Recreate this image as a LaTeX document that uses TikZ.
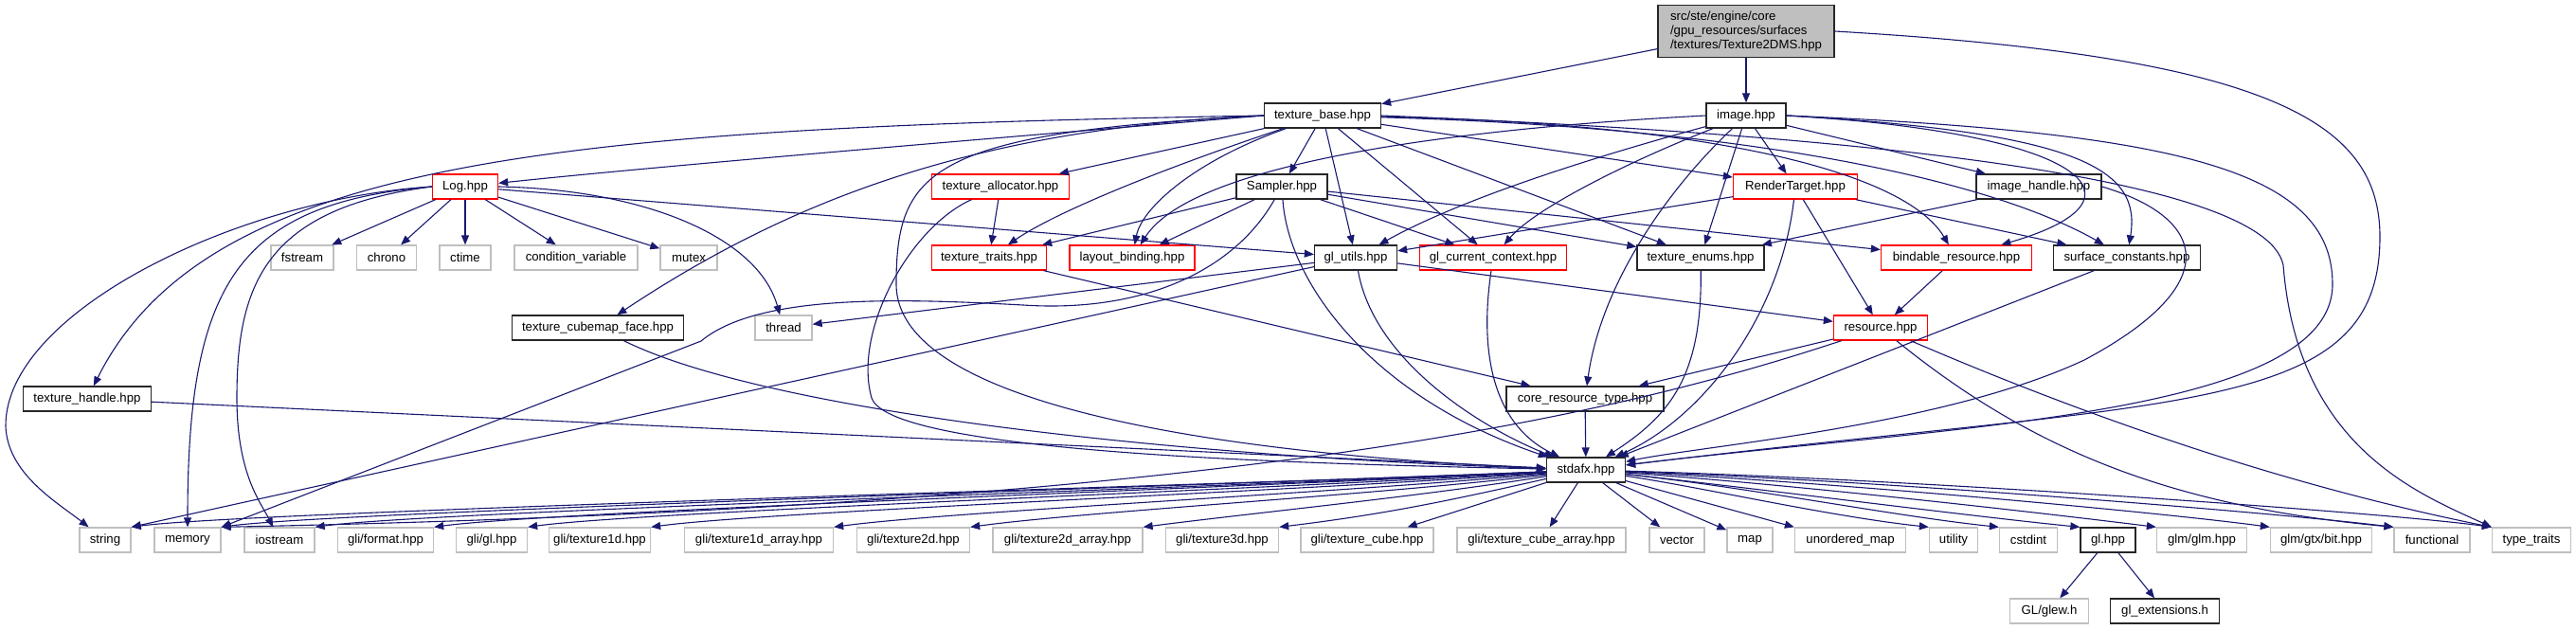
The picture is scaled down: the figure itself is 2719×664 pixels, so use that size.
\documentclass[tikz,border=0pt]{standalone}
\usepackage{fontspec}
\setmainfont{Liberation Sans}
\usetikzlibrary{arrows.meta}
\definecolor{edgec}{HTML}{191970}
\definecolor{greyc}{HTML}{BFBFBF}
\begin{document}
\begin{tikzpicture}[x=1pt,y=-1pt,font=\fontsize{13.2}{14.6}\selectfont,
  nb/.style={draw,rectangle,inner xsep=0pt,inner ysep=0pt,minimum height=26pt,line width=1.3pt},
  docnode/.style={nb,draw=black!85},
  rednode/.style={nb,draw=red},
  extnode/.style={nb,draw=greyc},
  edge/.style={draw=edgec,line width=1.1pt,-{Triangle[length=10pt,width=8pt]}}]
\useasboundingbox (0,0) rectangle (2719,664);
% ---- nodes
\node[docnode,fill=greyc,minimum width=186pt,minimum height=55pt,align=left] (root) at (1843,33) {src/ste/engine/core\\/gpu\_resources/surfaces\\/textures/Texture2DMS.hpp};
\node[docnode,minimum width=123pt] (tb) at (1396,122) {texture\_base.hpp};
\node[docnode,minimum width=84pt] (img) at (1843,122) {image.hpp};
\node[rednode,minimum width=69pt] (log) at (491,197) {Log.hpp};
\node[rednode,minimum width=145pt] (talloc) at (1056,197) {texture\_allocator.hpp};
\node[docnode,minimum width=96pt] (samp) at (1353,197) {Sampler.hpp};
\node[rednode,minimum width=131pt] (rt) at (1895,197) {RenderTarget.hpp};
\node[docnode,minimum width=132pt] (ih) at (2152,197) {image\_handle.hpp};
\node[extnode,minimum width=66pt] (fstr) at (319,272) {fstream};
\node[extnode,minimum width=63pt] (chr) at (408,272) {chrono};
\node[extnode,minimum width=54pt] (ctm) at (491,272) {ctime};
\node[extnode,minimum width=130pt] (cv) at (608,272) {condition\_variable};
\node[extnode,minimum width=60pt] (mtx) at (727,272) {mutex};
\node[rednode,minimum width=121pt] (ttr) at (1044,272) {texture\_traits.hpp};
\node[rednode,minimum width=132pt] (lb) at (1195,272) {layout\_binding.hpp};
\node[docnode,minimum width=87pt] (glu) at (1431,272) {gl\_utils.hpp};
\node[rednode,minimum width=155pt] (gcc) at (1576,272) {gl\_current\_context.hpp};
\node[docnode,minimum width=134pt] (te) at (1795,272) {texture\_enums.hpp};
\node[rednode,minimum width=159pt] (br) at (2065,272) {bindable\_resource.hpp};
\node[docnode,minimum width=155pt] (sc) at (2245,272) {surface\_constants.hpp};
\node[docnode,minimum width=181pt] (tcf) at (631,346) {texture\_cubemap\_face.hpp};
\node[extnode,minimum width=60pt] (thr) at (827,346) {thread};
\node[rednode,minimum width=99pt] (res) at (1985,346) {resource.hpp};
\node[docnode,minimum width=135pt] (th) at (92,421) {texture\_handle.hpp};
\node[docnode,minimum width=166pt] (crt) at (1673,421) {core\_resource\_type.hpp};
\node[docnode,minimum width=83pt] (std) at (1674,496) {stdafx.hpp};
\node[extnode,minimum width=54pt] (str) at (111,570) {string};
\node[extnode,minimum width=70pt] (mem) at (198,570) {memory};
\node[extnode,minimum width=74pt] (ios) at (295,570) {iostream};
\node[extnode,minimum width=101pt] (gfmt) at (407,570) {gli/format.hpp};
\node[extnode,minimum width=75pt] (ggl) at (519,570) {gli/gl.hpp};
\node[extnode,minimum width=107pt] (gt1) at (633,570) {gli/texture1d.hpp};
\node[extnode,minimum width=157pt] (gt1a) at (801,570) {gli/texture1d\_array.hpp};
\node[extnode,minimum width=119pt] (gt2) at (964,570) {gli/texture2d.hpp};
\node[extnode,minimum width=158pt] (gt2a) at (1127,570) {gli/texture2d\_array.hpp};
\node[extnode,minimum width=119pt] (gt3) at (1290,570) {gli/texture3d.hpp};
\node[extnode,minimum width=140pt] (gtc) at (1443,570) {gli/texture\_cube.hpp};
\node[extnode,minimum width=178pt] (gtca) at (1627,570) {gli/texture\_cube\_array.hpp};
\node[extnode,minimum width=58pt] (vec) at (1770,570) {vector};
\node[extnode,minimum width=48pt] (map) at (1847,570) {map};
\node[extnode,minimum width=117pt] (umap) at (1953,570) {unordered\_map};
\node[extnode,minimum width=51pt] (util) at (2062,570) {utility};
\node[extnode,minimum width=61pt] (cstd) at (2141,570) {cstdint};
\node[docnode,minimum width=58pt] (glh) at (2225,570) {gl.hpp};
\node[extnode,minimum width=95pt] (glm) at (2324,570) {glm/glm.hpp};
\node[extnode,minimum width=107pt] (gbit) at (2450,570) {glm/gtx/bit.hpp};
\node[extnode,minimum width=80pt] (func) at (2567,570) {functional};
\node[extnode,minimum width=83pt] (tt) at (2672,570) {type\_traits};
\node[extnode,minimum width=83pt] (glew) at (2163,645) {GL/glew.h};
\node[docnode,minimum width=115pt] (glext) at (2285,645) {gl\_extensions.h};
% ---- root
\draw[edge] (root) -- (tb);
\draw[edge] (root) -- (img);
\draw[edge] (root.east) .. controls (2400,60) and (2512,130) .. (2512,250) .. controls (2512,440) and (2300,420) .. (std);
% ---- texture_base
\draw[edge] (tb.west) .. controls (1000,150) and (700,175) .. (log);
\draw[edge] (tb.west) .. controls (600,135) and (220,165) .. (th);
\draw[edge] (tb.west) .. controls (1050,135) and (850,200) .. (tcf);
\draw[edge] (tb) -- (talloc);
\draw[edge] (tb) -- (samp);
\draw[edge] (tb) .. controls (1250,170) and (1120,220) .. (ttr);
\draw[edge] (tb) .. controls (1260,170) and (1205,220) .. (lb);
\draw[edge] (tb) -- (glu);
\draw[edge] (tb) -- (gcc);
\draw[edge] (tb) -- (te);
\draw[edge] (tb) -- (rt);
\draw[edge] (tb) .. controls (1800,130) and (2010,180) .. (br);
\draw[edge] (tb) .. controls (1850,135) and (2100,190) .. (sc);
\draw[edge] (tb.west) .. controls (980,140) and (946,180) .. (946,300) .. controls (946,430) and (1300,480) .. (std);
\draw[edge] (tb.east) .. controls (1900,140) and (2390,180) .. (2410,280) .. controls (2425,470) and (2550,520) .. (tt.north west);
% ---- image
\draw[edge] (img.west) .. controls (1550,135) and (1260,170) .. (lb);
\draw[edge] (img) .. controls (1740,150) and (1560,200) .. (glu);
\draw[edge] (img) .. controls (1720,170) and (1620,220) .. (gcc);
\draw[edge] (img) .. controls (1760,200) and (1690,300) .. (crt);
\draw[edge] (img) -- (te);
\draw[edge] (img) -- (rt);
\draw[edge] (img) -- (ih);
\draw[edge] (img.east) .. controls (2200,140) and (2280,210) .. (br);
\draw[edge] (img.east) .. controls (2200,140) and (2260,180) .. (sc);
\draw[edge] (img.east) .. controls (2300,140) and (2462,180) .. (2462,300) .. controls (2462,440) and (2050,450) .. (std);
% ---- Log
\draw[edge] (log) -- (fstr);
\draw[edge] (log) -- (chr);
\draw[edge] (log) -- (ctm);
\draw[edge] (log) -- (cv);
\draw[edge] (log) -- (mtx);
\draw[edge] (log.east) .. controls (680,200) and (800,250) .. (thr);
\draw[edge] (log) -- (glu);
\draw[edge] (log.west) .. controls (250,210) and (5,330) .. (6,450) .. controls (8,500) and (60,530) .. (str);
\draw[edge] (log.west) .. controls (250,215) and (198,300) .. (mem);
\draw[edge] (log.west) .. controls (280,220) and (250,300) .. (250,420) .. controls (250,500) and (275,530) .. (ios);
% ---- Sampler
\draw[edge] (samp) -- (ttr);
\draw[edge] (samp) -- (lb);
\draw[edge] (samp) -- (gcc);
\draw[edge] (samp) -- (te);
\draw[edge] (samp) -- (br);
\draw[edge] (samp) .. controls (1300,290) and (1200,330) .. (1080,322) .. controls (950,315) and (800,310) .. (740,360) -- (mem.north east);
\draw[edge] (samp) .. controls (1360,300) and (1450,420) .. (std);
% ---- texture_allocator
\draw[edge] (talloc) -- (ttr);
\draw[edge] (talloc) .. controls (960,240) and (900,350) .. (920,420) .. controls (940,480) and (1400,490) .. (std);
% ---- RenderTarget
\draw[edge] (rt) -- (glu);
\draw[edge] (rt) -- (res);
\draw[edge] (rt) -- (sc);
\draw[edge] (rt) .. controls (1880,330) and (1800,440) .. (std);
% ---- image_handle
\draw[edge] (ih) -- (te);
\draw[edge] (ih.east) .. controls (2330,230) and (2350,300) .. (2200,380) .. controls (2050,450) and (1800,470) .. (std);
% ---- gl_utils
\draw[edge] (glu) -- (thr);
\draw[edge] (glu) -- (str.north east);
\draw[edge] (glu) -- (res);
\draw[edge] (glu) .. controls (1450,380) and (1560,450) .. (std);
% ---- others
\draw[edge] (gcc) .. controls (1560,380) and (1580,450) .. (std);
\draw[edge] (te) .. controls (1797,400) and (1760,440) .. (std);
\draw[edge] (ttr) -- (crt);
\draw[edge] (br) -- (res);
\draw[edge] (sc) -- (std);
\draw[edge] (tcf) .. controls (800,430) and (1200,480) .. (std);
\draw[edge] (th) -- (std);
\draw[edge] (res) -- (crt);
\draw[edge] (res) .. controls (1700,440) and (1300,535) .. (mem.north east);
\draw[edge] (res) .. controls (2150,480) and (2300,535) .. (func.north west);
\draw[edge] (res) .. controls (2250,460) and (2450,520) .. (tt.north west);
\draw[edge] (crt) -- (std);
% ---- stdafx to leaves
\draw[edge] (std) .. controls (1300,512) and (258,540) .. (str.north east);
\draw[edge] (std) .. controls (1300,512) and (353,540) .. (mem.north east);
\draw[edge] (std) .. controls (1300,514) and (452,540) .. (ios.north east);
\draw[edge] (std) .. controls (1320,514) and (578,540) .. (gfmt.north east);
\draw[edge] (std) .. controls (1350,516) and (676,540) .. (ggl.north east);
\draw[edge] (std) .. controls (1380,518) and (807,540) .. (gt1.north east);
\draw[edge] (std) .. controls (1420,520) and (1000,540) .. (gt1a.north east);
\draw[edge] (std) .. controls (1460,522) and (1144,540) .. (gt2.north east);
\draw[edge] (std) .. controls (1500,524) and (1326,541) .. (gt2a.north east);
\draw[edge] (std) .. controls (1540,526) and (1469,542) .. (gt3.north east);
\draw[edge] (std) -- (gtc);
\draw[edge] (std) -- (gtca);
\draw[edge] (std) -- (vec);
\draw[edge] (std) -- (map);
\draw[edge] (std) -- (umap.north west);
\draw[edge] (std) .. controls (1800,515) and (1930,545) .. (util.north west);
\draw[edge] (std) .. controls (1850,515) and (2000,545) .. (cstd.north west);
\draw[edge] (std) .. controls (1850,515) and (2080,545) .. (glh.north west);
\draw[edge] (std) .. controls (1900,512) and (2160,542) .. (glm.north west);
\draw[edge] (std) .. controls (1950,510) and (2290,542) .. (gbit.north west);
\draw[edge] (std) .. controls (2000,508) and (2410,542) .. (func.north west);
\draw[edge] (std) .. controls (2000,505) and (2510,540) .. (tt.north west);
\draw[edge] (glh) -- (glew);
\draw[edge] (glh) -- (glext);
\end{tikzpicture}
\end{document}
